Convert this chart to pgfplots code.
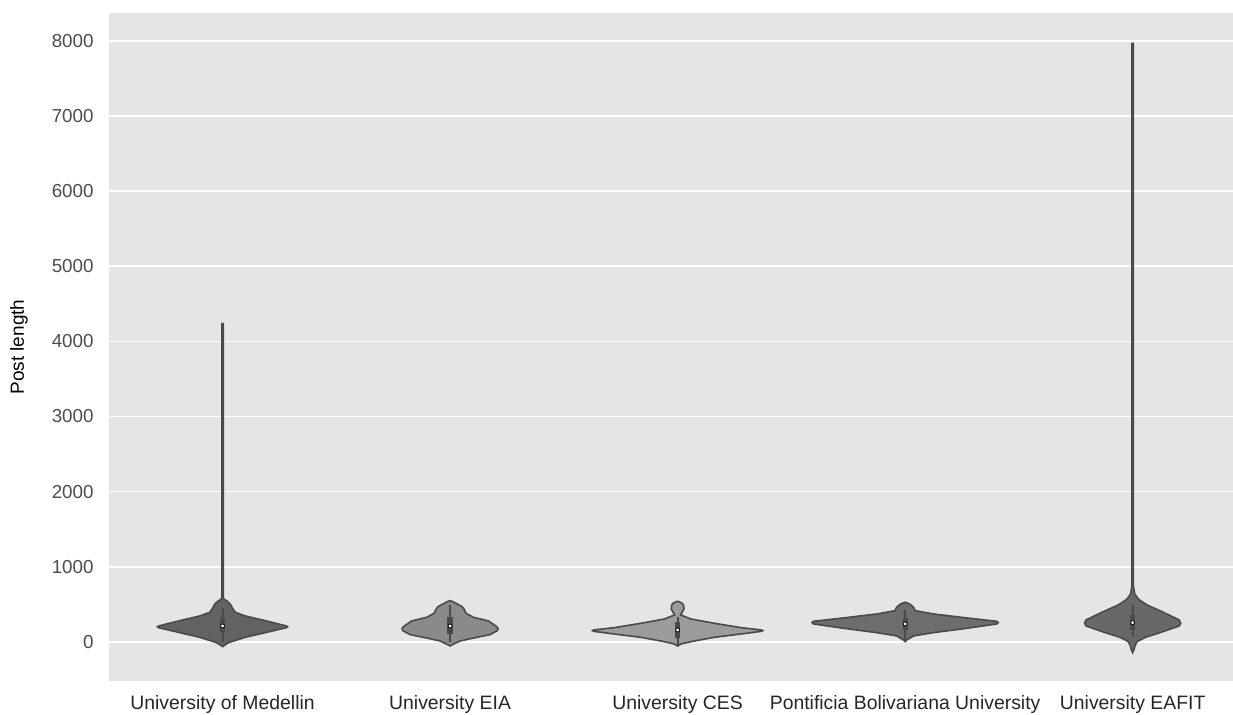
\documentclass[border=0pt]{standalone}
\usepackage{pgfplots}
\pgfplotsset{compat=1.18}
\usepackage{fontspec}
\setmainfont{Liberation Sans}
\definecolor{bg}{HTML}{E5E5E5}
\definecolor{edge}{HTML}{4A4A4A}
\definecolor{cA}{HTML}{626262}
\definecolor{cB}{HTML}{8A8A8A}
\definecolor{cC}{HTML}{9C9C9C}
\definecolor{cD}{HTML}{6D6D6D}
\definecolor{cE}{HTML}{686868}
\begin{document}
\begin{tikzpicture}
\useasboundingbox (-54.5pt,-17pt) rectangle (562pt,340.5pt);
\begin{axis}[
  at={(0,0)}, anchor=south west,
  scale only axis, width=562pt, height=334pt,
  xmin=-0.499, xmax=4.441, ymin=-519, ymax=8369,
  axis background/.style={fill=bg},
  axis line style={draw=none},
  ytick={0,1000,...,8000},
  xtick={0,1,2,3,4},
  xticklabels={University of Medellin, University EIA, University CES, Pontificia Bolivariana University, University EAFIT},
  ymajorgrids, grid style={white, line width=0.8pt},
  major tick length=0pt,
  scaled y ticks=false,
  /pgf/number format/assume math mode=true,
  /pgf/number format/1000 sep={},
  yticklabel style={font=\fontsize{9.4}{11}\selectfont, text=black!70, anchor=east, inner sep=0pt, xshift=-7.5pt},
  xticklabel style={font=\fontsize{9.7}{11}\selectfont, text=black!85, anchor=base, inner sep=0pt, yshift=-14.5pt},
  ylabel={Post length},
  ylabel style={at={(axis description cs:0,0.5)}, anchor=center, yshift=45pt, font=\fontsize{9.5}{11}\selectfont, text=black},
  clip=false,
]
% violins
\addplot[fill=cA, draw=edge, line width=0.8pt] coordinates {
(0,-62) (0.026,-9) (0.100,62) (0.188,124) (0.281,190) (0.286,202) (0.281,213) (0.188,284) (0.100,346) (0.056,395) (0.044,448) (0.034,506) (0.019,546) (0.006,568) (0.003,600) (0.003,4234)
(-0.003,4234) (-0.003,600) (-0.006,568) (-0.019,546) (-0.034,506) (-0.044,448) (-0.056,395) (-0.100,346) (-0.188,284) (-0.281,213) (-0.286,202) (-0.281,190) (-0.188,124) (-0.100,62) (-0.026,-9)
} --cycle;
\addplot[fill=cB, draw=edge, line width=0.8pt] coordinates {
(1,-53) (1.0075,-40) (1.044,13) (1.103,53) (1.176,98) (1.208,151) (1.211,178) (1.205,204) (1.169,280) (1.103,328) (1.070,382) (1.062,435) (1.053,470) (1.031,506) (1.013,535) (1,550)
(0.987,535) (0.969,506) (0.947,470) (0.938,435) (0.930,382) (0.897,328) (0.831,280) (0.795,204) (0.789,178) (0.792,151) (0.824,98) (0.897,53) (0.956,13) (0.9925,-40)
} --cycle;
\addplot[fill=cC, draw=edge, line width=0.8pt] coordinates {
(2,-53) (2.015,-27) (2.058,4) (2.161,62) (2.278,106) (2.369,142) (2.374,151) (2.369,160) (2.278,191) (2.161,249) (2.058,306) (2.013,360) (2.020,395) (2.028,440) (2.026,490) (2.020,515) (2.007,535) (2,541)
(1.993,535) (1.980,515) (1.974,490) (1.972,440) (1.980,395) (1.987,360) (1.942,306) (1.839,249) (1.722,191) (1.631,160) (1.626,151) (1.631,142) (1.722,106) (1.839,62) (1.942,4) (1.985,-27)
} --cycle;
\addplot[fill=cD, draw=edge, line width=0.8pt] coordinates {
(3,4) (3.0075,27) (3.037,80) (3.124,124) (3.271,182) (3.403,240) (3.409,257) (3.403,275) (3.271,320) (3.124,373) (3.044,417) (3.040,450) (3.031,479) (3.020,505) (3.009,520) (3,528)
(2.991,520) (2.980,505) (2.969,479) (2.960,450) (2.956,417) (2.876,373) (2.729,320) (2.597,275) (2.591,257) (2.597,240) (2.729,182) (2.876,124) (2.963,80) (2.9925,27)
} --cycle;
\addplot[fill=cE, draw=edge, line width=0.8pt] coordinates {
(4,-142) (4.006,-100) (4.009,-62) (4.019,4) (4.056,62) (4.129,133) (4.205,213) (4.211,250) (4.205,293) (4.129,404) (4.063,493) (4.026,568) (4.009,639) (4.006,692) (4.003,750) (4.003,7963)
(3.997,7963) (3.997,750) (3.994,692) (3.991,639) (3.974,568) (3.937,493) (3.871,404) (3.795,293) (3.789,250) (3.795,213) (3.871,133) (3.944,62) (3.981,4) (3.991,-62) (3.994,-100)
} --cycle;
% inner boxes: whiskers
\addplot[edge, line width=1pt] coordinates {(0,0) (0,450)};
\addplot[edge, line width=1pt] coordinates {(1,4) (1,493)};
\addplot[edge, line width=1pt] coordinates {(2,-40) (2,337)};
\addplot[edge, line width=1pt] coordinates {(3,27) (3,426)};
\addplot[edge, line width=1pt] coordinates {(4,62) (4,493)};
% boxes
\addplot[edge, line width=2.6pt] coordinates {(0,137) (0,315)};
\addplot[edge, line width=2.6pt] coordinates {(1,106) (1,329)};
\addplot[edge, line width=2.6pt] coordinates {(2,49) (2,271)};
\addplot[edge, line width=2.6pt] coordinates {(3,160) (3,315)};
\addplot[edge, line width=2.6pt] coordinates {(4,160) (4,360)};
% medians
\addplot[only marks, mark=*, mark size=1pt, mark options={fill=white, draw=none}] coordinates {(0,213) (1,213) (2,160) (3,240) (4,257)};
\end{axis}
\end{tikzpicture}
\end{document}
